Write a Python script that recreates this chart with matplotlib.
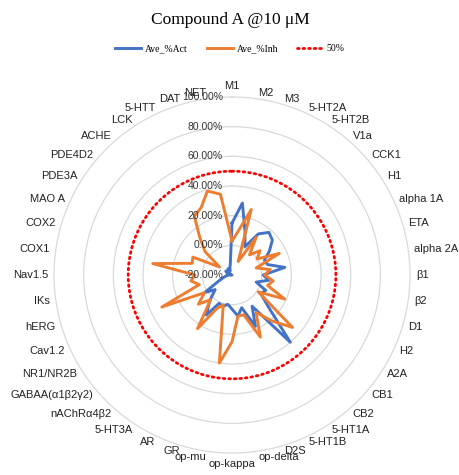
import numpy as np
import matplotlib
matplotlib.use('Agg')
from matplotlib import pyplot as plt
from matplotlib import transforms

targets = ['M1', 'M2', 'M3', '5-HT2A', '5-HT2B', 'V1a', 'CCK1', 'H1', 'alpha 1A', 'ETA',
           'alpha 2A', 'β1', 'β2', 'D1', 'H2', 'A2A', 'CB1', 'CB2', '5-HT1A', '5-HT1B',
           'D2S', 'op-delta', 'op-kappa', 'op-mu', 'GR', 'AR', '5-HT3A', 'nAChRα4β2',
           'GABAA(α1β2γ2)', 'NR1/NR2B', 'Cav1.2', 'hERG', 'IKs', 'Nav1.5', 'COX1', 'COX2',
           'MAO A', 'PDE3A', 'PDE4D2', 'ACHE', 'LCK', '5-HTT', 'DAT', 'NET']

# percent values
ave_act = [15, 29, 11, 1, 13, 18, 16, 10, 4, 5,
           16, 1, 5, -3, 5, 3, 12, 40, 5, 18,
           3, 8, 3, 0, 2, 1, 12, 3, -5, 2,
           -10, -14, -16, -18, -20, -18, -16, -15, -18, -16,
           -15, -17, -15, -12]
ave_inh = [3, 10, 26, -10, 10, -2, 5, 0, 15, -3,
           6, 2, 8, 5, 19, 1, 34, 21, 10, 26,
           8, 8, 25, 40, 1, 5, 23, 2, 10, 2,
           32, 3, 8, 5, 34, 8, 9, -10, 4, 13,
           27, 30, 39, 35]
threshold = 50

ticks = [-20, 0, 20, 40, 60, 80, 100]

plt.rcParams['font.family'] = ['Liberation Sans', 'DejaVu Sans']

fig = plt.figure(figsize=(4.6, 4.75), dpi=100)
ax = fig.add_axes([0.1174, 0.0463, 0.774, 0.7495], projection='polar')
ax.set_theta_zero_location('N')
ax.set_theta_direction(-1)

theta = np.linspace(0, 2 * np.pi, len(targets), endpoint=False)
th = np.append(theta, theta[0])
act = np.array(ave_act + ave_act[:1]) / 100
inh = np.array(ave_inh + ave_inh[:1]) / 100

ax.plot(th, act, color='#4472C4', lw=2.1, label='Ave_%Act', zorder=3)
ax.plot(th, inh, color='#ED7D31', lw=2.1, label='Ave_%Inh', zorder=4)
circ = np.linspace(0, 2 * np.pi, 400)
ax.plot(circ, np.full_like(circ, threshold / 100), color='#FF0000', lw=2,
        linestyle=(0, (0.6, 1.4)), dash_capstyle='round', label='50%', zorder=5)

ax.set_ylim(ticks[0] / 100, ticks[-1] / 100)
ax.set_yticks([t / 100 for t in ticks[1:-1]])
ax.set_yticklabels([])
ax.set_xticks([])
ax.yaxis.grid(True, color='#d9d9d9', lw=0.9)
ax.xaxis.grid(False)
ax.spines['polar'].set_color('#d9d9d9')
ax.spines['polar'].set_linewidth(0.9)

# radial labels left of the vertical axis
off = transforms.offset_copy(ax.transData, fig=fig, x=-9, y=0, units='dots')
for t in ticks:
    ax.text(0, t / 100, '%.2f%%' % t, transform=off, ha='right', va='center',
            fontsize=7.5, color='#333333', zorder=6)

# category labels around the outside
for a, name in zip(theta, targets):
    s, c = np.sin(a), np.cos(a)
    if abs(s) < 0.05:
        ha, va = 'center', ('bottom' if c > 0 else 'top')
    else:
        ha, va = ('left' if s > 0 else 'right'), 'center'
    ax.text(a, 1.04, name, ha=ha, va=va, fontsize=8, color='#222222')

fig.text(0.5, 0.958, 'Compound A @10 μM', ha='center', va='center',
         fontsize=12.5, family='Liberation Serif')
fig.legend(loc='center', bbox_to_anchor=(0.5, 0.897), ncol=3, frameon=False,
           prop={'family': 'Liberation Serif', 'size': 7}, handlelength=2.7,
           columnspacing=1.9, handletextpad=0.4)

plt.savefig('out.png', dpi=100)
